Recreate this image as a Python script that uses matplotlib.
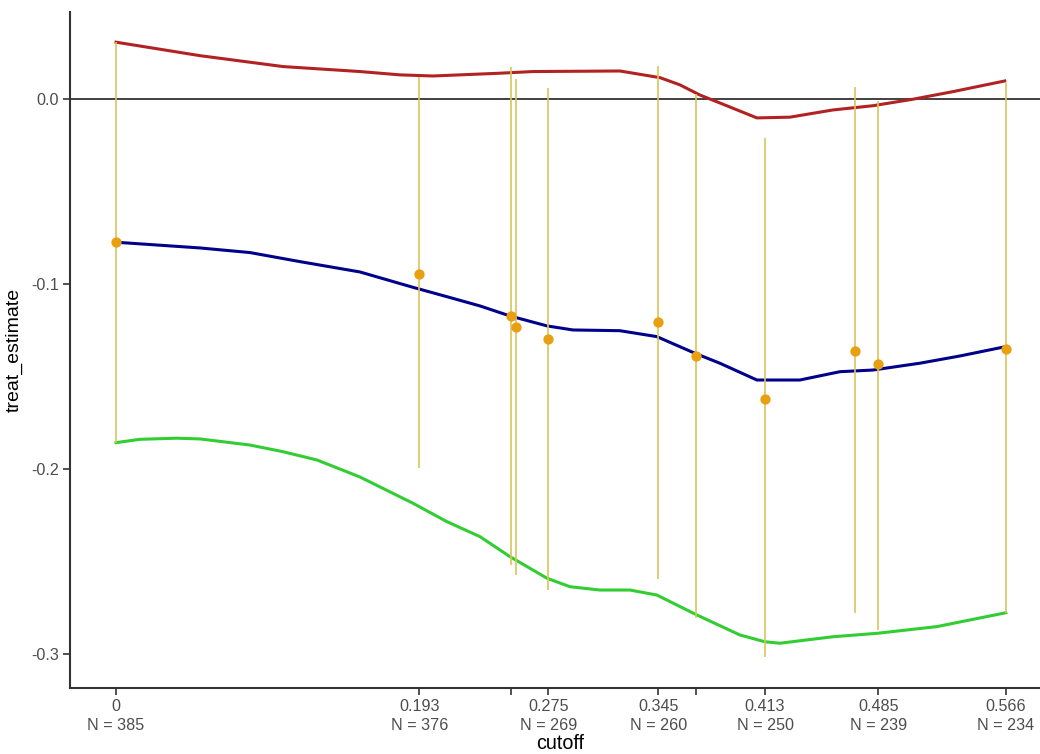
import matplotlib
matplotlib.use("Agg")
import matplotlib.pyplot as plt

plt.rcParams['font.family'] = ['Liberation Sans', 'DejaVu Sans']

# estimates per cutoff with confidence bounds
cutoff = [0.0, 0.193, 0.2513, 0.2547, 0.275, 0.345, 0.369, 0.413, 0.470, 0.485, 0.566]
estimate = [-0.0773, -0.0945, -0.1172, -0.1230, -0.1295, -0.1203, -0.1389, -0.1622, -0.1362, -0.1432, -0.1352]
ci_upper = [0.0310, 0.0123, 0.0178, 0.0111, 0.0061, 0.0183, 0.0030, -0.0210, 0.0066, -0.0010, 0.0088]
ci_lower = [-0.1858, -0.1997, -0.2520, -0.2574, -0.2656, -0.2598, -0.2809, -0.3020, -0.2782, -0.2872, -0.2782]

# smoothed curves
upper_x = [0.0, 0.0534, 0.1062, 0.1552, 0.1807, 0.2017, 0.2443, 0.2653, 0.3206, 0.3461,
           0.3588, 0.3715, 0.3842, 0.4078, 0.4288, 0.4561, 0.4816, 0.5070, 0.5324, 0.5655]
upper_y = [0.0310, 0.0237, 0.0178, 0.0151, 0.0133, 0.0127, 0.0142, 0.0151, 0.0154, 0.0118,
           0.0079, 0.0024, -0.0019, -0.0100, -0.0096, -0.0057, -0.0034, 0.0001, 0.0042, 0.0100]

mid_x = [0.0, 0.0534, 0.0852, 0.1170, 0.1552, 0.1889, 0.2106, 0.2316, 0.2506, 0.2742, 0.2907,
         0.3206, 0.3441, 0.3683, 0.3842, 0.4078, 0.4351, 0.4606, 0.4816, 0.5115, 0.5369, 0.5662]
mid_y = [-0.0773, -0.0804, -0.0829, -0.0878, -0.0934, -0.1017, -0.1068, -0.1118, -0.1172, -0.1226, -0.1248,
         -0.1252, -0.1284, -0.1374, -0.1428, -0.1519, -0.1519, -0.1474, -0.1465, -0.1428, -0.1389, -0.1338]

lower_x = [0.0, 0.0153, 0.0388, 0.0534, 0.0852, 0.1062, 0.1279, 0.1552, 0.1889, 0.2106, 0.2316,
           0.2506, 0.2742, 0.2888, 0.3079, 0.3270, 0.3441, 0.3696, 0.3969, 0.4128, 0.4224,
           0.4561, 0.4847, 0.5223, 0.5662]
lower_y = [-0.1858, -0.1840, -0.1834, -0.1838, -0.1871, -0.1907, -0.1952, -0.2044, -0.2186, -0.2286, -0.2367,
           -0.2475, -0.2592, -0.2638, -0.2656, -0.2656, -0.2683, -0.2791, -0.2899, -0.2936, -0.2944,
           -0.2909, -0.2890, -0.2854, -0.2779]

tick_pos = [0.0, 0.193, 0.2513, 0.275, 0.345, 0.369, 0.413, 0.485, 0.566]
tick_lab = ['0\nN = 385', '0.193\nN = 376', '', '0.275\nN = 269', '0.345\nN = 260', '',
            '0.413\nN = 250', '0.485\nN = 239', '0.566\nN = 234']

fig = plt.figure(figsize=(10.4, 7.54), dpi=100)
ax = fig.add_axes([70 / 1040, 65.7 / 754, 980 / 1040, 676.6 / 754])

ax.axhline(0, color='#333333', lw=1.3, zorder=1)
ax.plot(upper_x, upper_y, color='firebrick', lw=2.2, zorder=2)
ax.plot(mid_x, mid_y, color='darkblue', lw=2.2, zorder=2)
ax.plot(lower_x, lower_y, color='limegreen', lw=2.2, zorder=2)
ax.vlines(cutoff, ci_lower, ci_upper, color='#d8c55a', lw=1.4, alpha=0.85, zorder=3)
ax.scatter(cutoff, estimate, color='#E8A010', s=55, zorder=4, linewidths=0)

ax.set_xlim(-0.0293, 0.5943)
ax.set_ylim(-0.3188, 0.0475)
ax.set_xticks(tick_pos)
ax.set_xticklabels(tick_lab, linespacing=1.3)
ax.set_yticks([0.0, -0.1, -0.2, -0.3])
ax.set_yticklabels(['0.0', '-0.1', '-0.2', '-0.3'])

for s in ['top', 'right']:
    ax.spines[s].set_visible(False)
for s in ['left', 'bottom']:
    ax.spines[s].set_color('#333333')
    ax.spines[s].set_linewidth(1.5)

ax.tick_params(axis='both', colors='#333333', length=5, width=1.2, labelsize=11.6,
               labelcolor='#4d4d4d')
ax.tick_params(axis='x', pad=3)
ax.tick_params(axis='y', pad=3)

ax.set_xlabel('cutoff', fontsize=14.2, labelpad=1)
ax.set_ylabel('treat_estimate', fontsize=14, labelpad=6)

fig.savefig('out.png', dpi=100)
